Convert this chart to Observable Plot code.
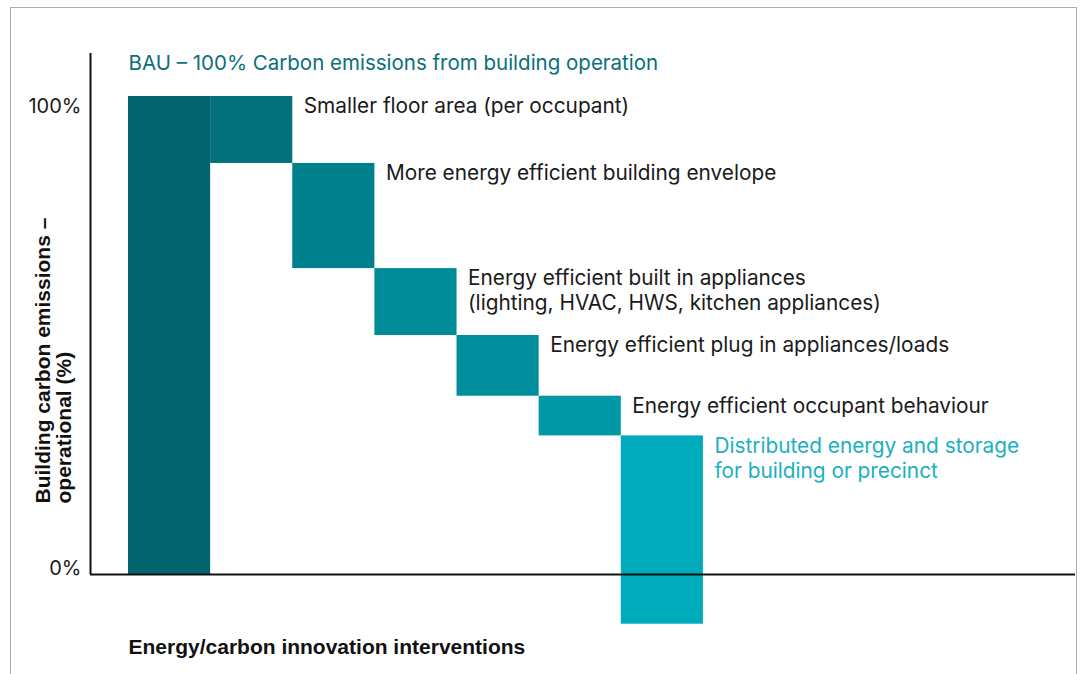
<!DOCTYPE html>
<html>
<head>
<meta charset="utf-8">
<script src="https://cdn.jsdelivr.net/npm/d3@7"></script>
<script src="https://cdn.jsdelivr.net/npm/@observablehq/plot@0.6"></script>
<style>
  html, body { margin: 0; padding: 0; background: #fff; }
  body { width: 1082px; height: 674px; overflow: hidden; position: relative; font-family: Inter, "Noto Sans", sans-serif; }
  #frame { position: absolute; left: 10px; top: 7px; width: 1067px; height: 720px; border: 1px solid #adadad; box-sizing: border-box; }
  #chart { position: absolute; left: 0; top: 0; }
</style>
</head>
<body>
<div id="frame"></div>
<div id="chart"></div>
<script>
// ---- data ----
const steps = [
  "BAU",
  "Smaller floor area (per occupant)",
  "More energy efficient building envelope",
  "Energy efficient built in appliances\n(lighting, HVAC, HWS, kitchen appliances)",
  "Energy efficient plug in appliances/loads",
  "Energy efficient occupant behaviour",
  "Distributed energy and storage\nfor building or precinct"
];
const tops    = [100, 100, 86, 64, 50, 37.3, 29];
const bottoms = [0,   86,  64, 50, 37.3, 29, -10.4];
const fills   = ["#02646e", "#03717b", "#00808c", "#008b98", "#018e9c", "#0097a6", "#00abbc"];
const labelColors = [null, "#1a1a1a", "#1a1a1a", "#1a1a1a", "#1a1a1a", "#1a1a1a", "#1ab0c0"];
const bauTitle = "BAU – 100% Carbon emissions from building operation";
const yTicks = [0, 100];
const yTitle = "Building carbon emissions –\noperational (%)";
const xTitle = "Energy/carbon innovation interventions";

const bars = steps.map((s, i) => ({i, label: s, top: tops[i], bottom: bottoms[i], fill: fills[i], lc: labelColors[i]}));
const labels = bars.slice(1);

const xMin = -0.4626, xMax = 11.53;
const pct = d => d + "%";

const chart = Plot.plot({
  width: 1082,
  height: 674,
  marginLeft: 90,
  marginRight: 7,
  marginTop: 53,
  marginBottom: 100,
  style: {fontFamily: "Inter, sans-serif", background: "transparent", overflow: "visible"},
  x: {domain: [xMin, xMax], axis: null},
  y: {domain: [0, 109], axis: null},
  color: {type: "identity"},
  marks: [
    Plot.rect(bars, {x1: d => d.i, x2: d => d.i + 1, y1: "bottom", y2: "top", fill: "fill"}),
    Plot.ruleY([0], {x1: xMin, x2: xMax, stroke: "#111", strokeWidth: 2}),
    Plot.ruleX([xMin], {y1: 0, y2: 109, stroke: "#111", strokeWidth: 2}),
    // y tick labels
    Plot.text(yTicks.filter(t => t > 0), {x: xMin, y: d => d, text: pct, textAnchor: "end", lineAnchor: "top", dx: -9, dy: 2, fontSize: 20, fill: "#1a1a1a"}),
    Plot.text(yTicks.filter(t => t === 0), {x: xMin, y: d => d, text: pct, textAnchor: "end", lineAnchor: "bottom", dx: -9, dy: 0, fontSize: 20, fill: "#1a1a1a"}),
    // step labels
    Plot.text(labels, {x: d => d.i + 1, y: "top", text: "label", fill: "lc", textAnchor: "start", lineAnchor: "top", dx: 11, dy: -1, fontSize: 20.8, lineHeight: 1.2}),
    Plot.text([bauTitle], {x: 0, y: 100, text: d => d, fill: "#0b6f79", textAnchor: "start", lineAnchor: "top", dy: -41, fontSize: 20.5}),
    // axis titles
    Plot.text([xTitle], {frameAnchor: "bottom-left", text: d => d, dx: 38, dy: 79, textAnchor: "start", fontSize: 21, fontWeight: "bold", fill: "#111", fontFamily: "Liberation Sans, Arial, sans-serif"}),
    Plot.text([yTitle], {frameAnchor: "bottom-left", text: d => d, dx: -37, dy: -71, rotate: -90, textAnchor: "start", lineAnchor: "middle", lineHeight: 1.0, fontSize: 21, fontWeight: "bold", fill: "#111", fontFamily: "Liberation Sans, Arial, sans-serif"})
  ]
});
document.getElementById("chart").append(chart);
</script>
</body>
</html>
